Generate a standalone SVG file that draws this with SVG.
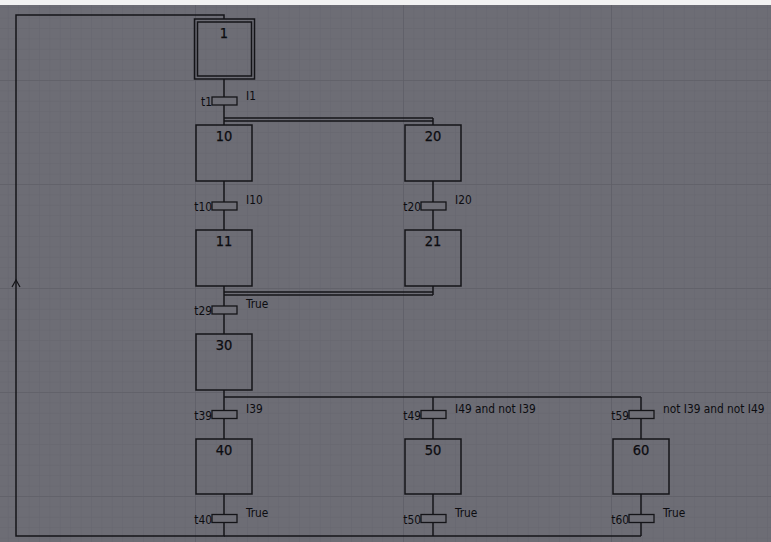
<svg xmlns="http://www.w3.org/2000/svg" width="771" height="542" viewBox="0 0 771 542">
  <defs>
    <pattern id="minor" patternUnits="userSpaceOnUse" x="195" y="80" width="10.4" height="10.4">
      <path d="M0 0V10.4M0 0H10.4" fill="none" stroke="#66666e" stroke-width="1"/>
    </pattern>
    <pattern id="major" patternUnits="userSpaceOnUse" x="195" y="80" width="208" height="104">
      <path d="M0 0V104M0 0H208" fill="none" stroke="#5c5c64" stroke-width="1.2"/>
    </pattern>
  </defs>
  <style>
    .ln{fill:none;stroke:#141418;stroke-width:1.5}
    .step{fill:none;stroke:#141418;stroke-width:1.5}
    .tr{fill:#6d6d75;stroke:#141418;stroke-width:1.3}
    .num{font-family:"DejaVu Sans Condensed","DejaVu Sans",sans-serif;font-size:14.5px;fill:#0c0c10;text-anchor:middle;stroke:#0c0c10;stroke-width:0.25}
    .lbl{font-family:"DejaVu Sans Condensed","DejaVu Sans",sans-serif;font-size:11.8px;fill:#0c0c10}
    .tl{font-family:"DejaVu Sans Condensed","DejaVu Sans",sans-serif;font-size:11.8px;fill:#0c0c10;text-anchor:end}
  </style>
  <rect width="771" height="542" fill="#6d6d75"/>
  <rect width="771" height="542" fill="url(#minor)"/>
  <rect width="771" height="542" fill="url(#major)"/>
  <rect width="771" height="5" fill="#f2f2f2"/>

  <g id="connectors">
    <polyline class="ln" points="224,522.5 224,536 16,536 16,15 224,15 224,19"/>
    <polyline fill="none" stroke="#141418" stroke-width="1.2" points="12,287 16,280 20,287"/>
    <line class="ln" x1="224" y1="79" x2="224" y2="125"/>
    <line class="ln" x1="224" y1="118" x2="433" y2="118"/>
    <line class="ln" x1="224" y1="121" x2="433" y2="121"/>
    <line class="ln" x1="433" y1="118" x2="433" y2="125"/>
    <line class="ln" x1="224" y1="181" x2="224" y2="230"/>
    <line class="ln" x1="224" y1="286" x2="224" y2="334"/>
    <line class="ln" x1="433" y1="181" x2="433" y2="230"/>
    <line class="ln" x1="433" y1="286" x2="433" y2="295"/>
    <line class="ln" x1="224" y1="292" x2="433" y2="292"/>
    <line class="ln" x1="224" y1="295" x2="433" y2="295"/>
    <line class="ln" x1="224" y1="390" x2="224" y2="439"/>
    <line class="ln" x1="224" y1="397" x2="641" y2="397"/>
    <line class="ln" x1="433" y1="397" x2="433" y2="439"/>
    <line class="ln" x1="641" y1="397" x2="641" y2="439"/>
    <line class="ln" x1="224" y1="494" x2="224" y2="515"/>
    <line class="ln" x1="433" y1="494" x2="433" y2="536"/>
    <line class="ln" x1="641" y1="494" x2="641" y2="536"/>
    <line class="ln" x1="224" y1="536" x2="641" y2="536"/>
  </g>

  <g id="step1">
    <rect class="step" x="194.5" y="19" width="60" height="60"/>
    <rect class="step" x="197.5" y="22" width="54" height="54"/>
    <text class="num" x="224" y="38">1</text>
  </g>
  <g id="step10">
    <rect class="step" x="196" y="125" width="56" height="56"/>
    <text class="num" x="224" y="141">10</text>
  </g>
  <g id="step20">
    <rect class="step" x="405" y="125" width="56" height="56"/>
    <text class="num" x="433" y="141">20</text>
  </g>
  <g id="step11">
    <rect class="step" x="196" y="230" width="56" height="56"/>
    <text class="num" x="224" y="246">11</text>
  </g>
  <g id="step21">
    <rect class="step" x="405" y="230" width="56" height="56"/>
    <text class="num" x="433" y="246">21</text>
  </g>
  <g id="step30">
    <rect class="step" x="196" y="334" width="56" height="56"/>
    <text class="num" x="224" y="350">30</text>
  </g>
  <g id="step40">
    <rect class="step" x="196" y="439" width="56" height="55"/>
    <text class="num" x="224" y="455">40</text>
  </g>
  <g id="step50">
    <rect class="step" x="405" y="439" width="56" height="55"/>
    <text class="num" x="433" y="455">50</text>
  </g>
  <g id="step60">
    <rect class="step" x="613" y="439" width="56" height="55"/>
    <text class="num" x="641" y="455">60</text>
  </g>

  <g id="t1">
    <rect class="tr" x="212" y="97" width="25" height="8"/>
    <text class="tl" x="212" y="106">t1</text>
    <text class="lbl" x="246" y="100">I1</text>
  </g>
  <g id="t10">
    <rect class="tr" x="212" y="202" width="25" height="8"/>
    <text class="tl" x="212" y="211">t10</text>
    <text class="lbl" x="246" y="204">I10</text>
  </g>
  <g id="t20">
    <rect class="tr" x="421" y="202" width="25" height="8"/>
    <text class="tl" x="421" y="211">t20</text>
    <text class="lbl" x="455" y="204">I20</text>
  </g>
  <g id="t29">
    <rect class="tr" x="212" y="306" width="25" height="8"/>
    <text class="tl" x="212" y="315">t29</text>
    <text class="lbl" x="246" y="308">True</text>
  </g>
  <g id="t39">
    <rect class="tr" x="212" y="410.5" width="25" height="8"/>
    <text class="tl" x="212" y="419.5">t39</text>
    <text class="lbl" x="246" y="412.5">I39</text>
  </g>
  <g id="t49">
    <rect class="tr" x="421" y="410.5" width="25" height="8"/>
    <text class="tl" x="421" y="419.5">t49</text>
    <text class="lbl" x="455" y="412.5">I49 and not I39</text>
  </g>
  <g id="t59">
    <rect class="tr" x="629" y="410.5" width="25" height="8"/>
    <text class="tl" x="629" y="419.5">t59</text>
    <text class="lbl" x="663" y="412.5">not I39 and not I49</text>
  </g>
  <g id="t40">
    <rect class="tr" x="212" y="514.5" width="25" height="8"/>
    <text class="tl" x="212" y="523.5">t40</text>
    <text class="lbl" x="246" y="516.5">True</text>
  </g>
  <g id="t50">
    <rect class="tr" x="421" y="514.5" width="25" height="8"/>
    <text class="tl" x="421" y="523.5">t50</text>
    <text class="lbl" x="455" y="516.5">True</text>
  </g>
  <g id="t60">
    <rect class="tr" x="629" y="514.5" width="25" height="8"/>
    <text class="tl" x="629" y="523.5">t60</text>
    <text class="lbl" x="663" y="516.5">True</text>
  </g>
</svg>
